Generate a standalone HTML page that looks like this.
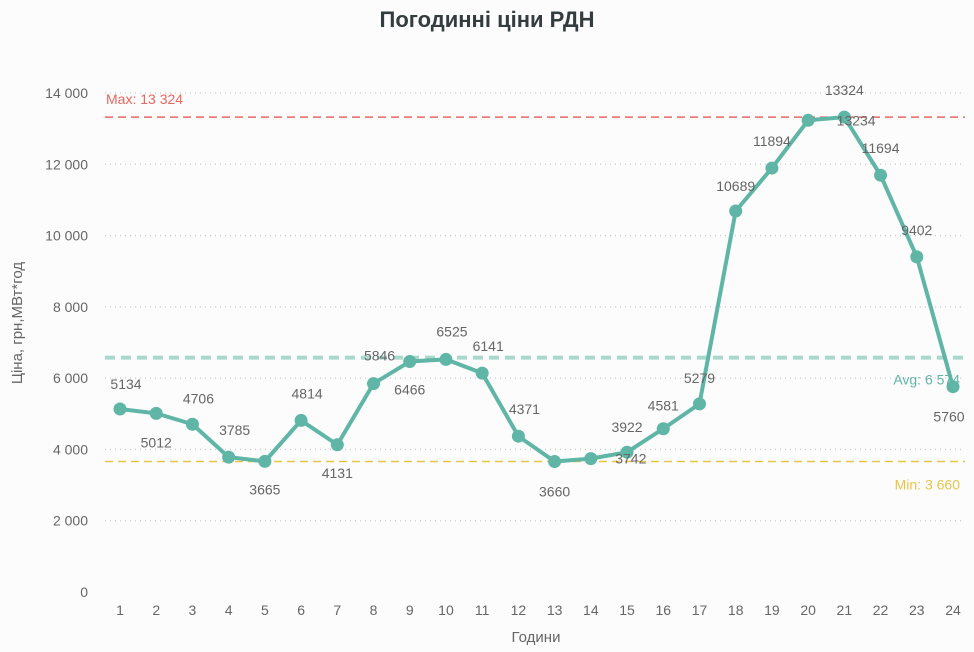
<!DOCTYPE html>
<html><head><meta charset="utf-8"><style>
body{margin:0;background:#fcfcfc;}
svg{display:block;font-family:"Liberation Sans","DejaVu Sans",sans-serif;}
</style></head><body>
<svg id="chart" width="974" height="652">
<text x="487" y="27" text-anchor="middle" font-size="22" font-weight="bold" fill="#333d3f">Погодинні ціни РДН</text>
<text transform="translate(22,323) rotate(-90)" text-anchor="middle" font-size="15" fill="#666">Ціна, грн,МВт*год</text>
<text x="536" y="642" text-anchor="middle" font-size="15" fill="#666">Години</text>
<g id="grid"></g><g id="refs"></g><g id="series"></g><g id="labels"></g>
</svg>
<script>
const hours=[1,2,3,4,5,6,7,8,9,10,11,12,13,14,15,16,17,18,19,20,21,22,23,24];
const prices=[5134,5012,4706,3785,3665,4814,4131,5846,6466,6525,6141,4371,3660,3742,3922,4581,5279,10689,11894,13234,13324,11694,9402,5760];
const yTicks=[0,2000,4000,6000,8000,10000,12000,14000];
const yTickLabels=["0","2 000","4 000","6 000","8 000","10 000","12 000","14 000"];
const maxVal=13324, avgVal=6574, minVal=3660;
const labelDx=[6,0,6,6,0,6,0,6,0,6,6,6,0,40,0,0,0,0,0,48,0,0,0,-4];
const labelDy=[-25,29,-26,-27,28,-27,28,-28,28,-28,-27,-27,30,0,-25,-23,-26,-25,-27,0,-27,-27,-27,30];
const NS="http://www.w3.org/2000/svg";
const X=h=>120+(h-1)*(953-120)/23;
const Y=v=>592-v*(592-93)/14000;
function mk(tag,attrs,parent,txt){const e=document.createElementNS(NS,tag);for(const k in attrs)e.setAttribute(k,attrs[k]);if(txt!==undefined)e.textContent=txt;document.getElementById(parent).appendChild(e);return e;}
yTicks.forEach((t,i)=>{
  if(t>0){const l=mk('line',{x1:105,x2:965,y1:Y(t),y2:Y(t),stroke:'#c8c8c8','stroke-dasharray':'1 4','stroke-width':1.3},'grid');
  
  }
  const tx=mk('text',{x:88,y:Y(t)+5,'text-anchor':'end','font-size':14,fill:'#666'},'grid',yTickLabels[i]);
  
  
});
hours.forEach(h=>{const tx=mk('text',{x:X(h),y:615,'text-anchor':'middle','font-size':14,fill:'#666'},'grid',String(h));
  
  });
function ref(v,color,w,dash,label,lx,ly,anchor,name,tcolor){
  const l=mk('line',{x1:105,x2:965,y1:Y(v),y2:Y(v),stroke:color,'stroke-width':w,'stroke-dasharray':dash},'refs');
  
  
  const t=mk('text',{x:lx,y:ly,'text-anchor':anchor,'font-size':14,fill:tcolor||color},'refs',label);
  
  
}
ref(maxVal,'#e8675f',1.5,'8 5','Max: 13 324',106,Y(maxVal)-13,'start','max');
ref(avgVal,'#a9d9cd',4,'10 6','Avg: 6 574',960,Y(avgVal)+27,'end','avg','#5fb5a6');
ref(minVal,'#e8c547',1.5,'8 5','Min: 3 660',960,Y(minVal)+28,'end','min');
const pts=hours.map((h,i)=>X(h)+','+Y(prices[i])).join(' ');
const pl=mk('polyline',{points:pts,fill:'none',stroke:'#5fb5a6','stroke-width':4,'stroke-linejoin':'round'},'series');


hours.forEach((h,i)=>{
  const c=mk('circle',{cx:X(h),cy:Y(prices[i]),r:6.5,fill:'#5fb5a6'},'series');
  
  
  const t=mk('text',{x:X(h)+labelDx[i],y:Y(prices[i])+labelDy[i]+5,'text-anchor':'middle','font-size':14,fill:'#666'},'labels',String(prices[i]));
  
  
});
</script>
</body></html>
